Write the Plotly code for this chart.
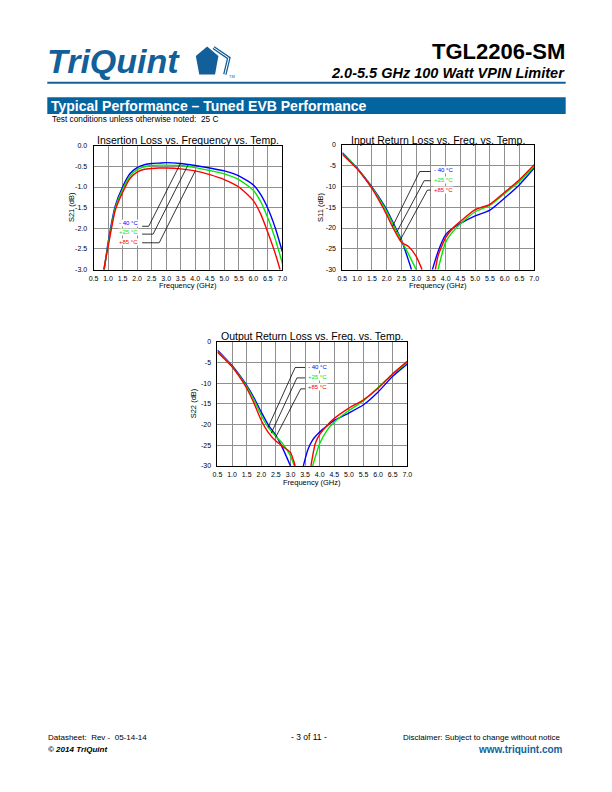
import plotly.graph_objects as go

W, H = 612, 792
FONT = "Liberation Sans"

# ---------------- data ----------------
temps = ["- 40 °C", "+25 °C", "+85 °C"]
colors = ["#0000ff", "#00e600", "#ff0000"]

freq_ticks = [0.5, 1.0, 1.5, 2.0, 2.5, 3.0, 3.5, 4.0, 4.5, 5.0, 5.5, 6.0, 6.5, 7.0]
freq_ticktext = ["0.5", "1.0", "1.5", "2.0", "2.5", "3.0", "3.5", "4.0", "4.5", "5.0", "5.5", "6.0", "6.5", "7.0"]
s21_ticks = [0.0, -0.5, -1.0, -1.5, -2.0, -2.5, -3.0]
s21_ticktext = ["0.0", "-0.5", "-1.0", "-1.5", "-2.0", "-2.5", "-3.0"]
rl_ticks = [0, -5, -10, -15, -20, -25, -30]
rl_ticktext = ["0", "-5", "-10", "-15", "-20", "-25", "-30"]

# Insertion loss S21 (dB)
s21_m40_f = [0.87, 1.0, 1.25, 1.5, 1.75, 2.0, 2.25, 2.5, 2.75, 3.0, 3.5, 4.0, 4.5, 5.0, 5.5, 6.0, 6.25, 6.5, 6.75, 7.0]
s21_m40 = [-3.0, -2.35, -1.45, -1.0, -0.68, -0.53, -0.46, -0.43, -0.42, -0.41, -0.43, -0.48, -0.54, -0.61, -0.73, -0.95, -1.18, -1.52, -1.98, -2.57]
s21_p25_f = [0.86, 1.0, 1.25, 1.5, 1.75, 2.0, 2.25, 2.5, 2.75, 3.0, 3.5, 4.0, 4.5, 5.0, 5.5, 6.0, 6.25, 6.5, 6.75, 7.0]
s21_p25 = [-3.0, -2.4, -1.5, -1.06, -0.74, -0.58, -0.51, -0.48, -0.47, -0.47, -0.48, -0.53, -0.6, -0.68, -0.82, -1.08, -1.35, -1.75, -2.25, -2.85]
s21_p85_f = [0.85, 1.0, 1.25, 1.5, 1.75, 2.0, 2.25, 2.5, 2.75, 3.0, 3.5, 4.0, 4.5, 5.0, 5.5, 6.0, 6.25, 6.5, 6.75, 6.92]
s21_p85 = [-3.0, -2.45, -1.56, -1.13, -0.8, -0.64, -0.57, -0.55, -0.54, -0.54, -0.56, -0.61, -0.7, -0.82, -1.0, -1.33, -1.65, -2.1, -2.6, -3.0]

# Input return loss S11 (dB): low branch and high branch (curve leaves the -30 dB floor between)
s11_m40_f_lo = [0.5, 0.75, 1.0, 1.25, 1.5, 1.75, 2.0, 2.25, 2.5, 2.75, 2.84]
s11_m40_lo = [-1.9, -3.7, -5.6, -7.8, -10.1, -12.7, -15.6, -19.2, -22.8, -28.0, -30.0]
s11_m40_f_hi = [3.55, 3.75, 4.0, 4.25, 4.5, 5.0, 5.5, 6.0, 6.5, 7.0]
s11_m40_hi = [-30.0, -25.5, -21.6, -20.0, -18.9, -17.1, -15.7, -12.8, -9.6, -5.6]
s11_p25_f_lo = [0.5, 0.75, 1.0, 1.25, 1.5, 1.75, 2.0, 2.25, 2.5, 2.75, 3.0]
s11_p25_lo = [-2.1, -3.8, -5.7, -7.9, -10.3, -13.0, -16.0, -19.6, -23.0, -26.4, -30.0]
s11_p25_f_hi = [3.74, 4.0, 4.25, 4.5, 5.0, 5.5, 6.0, 6.5, 7.0]
s11_p25_hi = [-30.0, -23.4, -20.8, -19.0, -16.1, -14.5, -11.7, -8.8, -5.2]
s11_p85_f_lo = [0.5, 0.75, 1.0, 1.25, 1.5, 1.75, 2.0, 2.25, 2.5, 2.75, 3.0, 3.2]
s11_p85_lo = [-2.3, -4.0, -5.8, -8.0, -10.5, -13.5, -16.8, -20.4, -23.4, -24.5, -26.8, -30.0]
s11_p85_f_hi = [3.65, 3.75, 4.0, 4.25, 4.5, 5.0, 5.5, 6.0, 6.5, 7.0]
s11_p85_hi = [-30.0, -26.5, -22.3, -20.0, -18.4, -15.6, -14.3, -11.4, -8.4, -4.8]

# Output return loss S22 (dB)
s22_m40_f_lo = [0.5, 0.75, 1.0, 1.25, 1.5, 1.75, 2.0, 2.25, 2.5, 2.75, 3.0]
s22_m40_lo = [-2.0, -3.8, -5.7, -8.0, -10.5, -13.5, -17.0, -20.2, -22.6, -26.0, -30.0]
s22_m40_f_hi = [3.44, 3.6, 3.75, 4.0, 4.25, 4.5, 5.0, 5.5, 6.0, 6.5, 7.0]
s22_m40_hi = [-30.0, -26.0, -23.8, -21.8, -20.3, -19.0, -17.2, -15.2, -12.1, -8.3, -5.3]
s22_p25_f_lo = [0.5, 0.75, 1.0, 1.25, 1.5, 1.75, 2.0, 2.25, 2.5, 2.75, 3.0, 3.13]
s22_p25_lo = [-2.3, -4.0, -5.9, -8.2, -10.8, -14.0, -17.8, -20.8, -22.9, -24.8, -27.6, -30.0]
s22_p25_f_hi = [3.76, 4.0, 4.25, 4.5, 5.0, 5.5, 6.0, 6.5, 7.0]
s22_p25_hi = [-30.0, -24.6, -21.4, -19.4, -16.6, -14.2, -11.0, -7.8, -5.0]
s22_p85_f_lo = [0.5, 0.75, 1.0, 1.25, 1.5, 1.75, 2.0, 2.25, 2.5, 2.75, 3.0, 3.1, 3.16]
s22_p85_lo = [-2.5, -4.2, -6.0, -8.4, -11.2, -14.8, -19.0, -22.0, -24.0, -25.4, -26.8, -28.6, -30.0]
s22_p85_f_hi = [3.7, 3.85, 4.0, 4.25, 4.5, 5.0, 5.5, 6.0, 6.5, 7.0]
s22_p85_hi = [-30.0, -24.6, -22.4, -20.2, -18.5, -16.0, -14.0, -11.2, -7.7, -4.7]

# Leader-line callouts (frequency, dB) for each temperature label
s21_label_pos = [(2.06, -1.86), (2.06, -2.10), (2.06, -2.34)]
s21_leaders = [
    [(2.17, -1.95), (2.40, -1.95), (3.49, -0.43)],
    [(2.17, -2.14), (2.55, -2.14), (3.75, -0.47)],
    [(2.17, -2.35), (2.76, -2.35), (4.00, -0.61)],
]
s11_label_pos = [(3.57, -6.0), (3.57, -8.4), (3.57, -10.8)]
s11_leaders = [
    [(3.49, -6.43), (3.12, -6.43), (2.20, -19.6)],
    [(3.49, -8.64), (3.27, -8.64), (2.34, -21.0)],
    [(3.49, -10.9), (3.38, -10.9), (2.46, -22.9)],
]
s22_label_pos = [(3.57, -6.17), (3.57, -8.56), (3.57, -11.0)]
s22_leaders = [
    [(3.50, -6.17), (3.16, -6.17), (2.23, -20.7)],
    [(3.50, -8.70), (3.22, -8.70), (2.34, -22.1)],
    [(3.50, -11.35), (3.35, -11.35), (2.49, -23.1)],
]

# ---------------- figure ----------------
def px(x):
    return x / W


def py(y):
    return 1 - y / H


fig = go.Figure()


def join(fl, vl, fh=None, vh=None):
    if fh is None:
        return list(fl), list(vl)
    return list(fl) + [None] + list(fh), list(vl) + [None] + list(vh)


panels = [
    dict(xa="x", ya="y", series=[join(s21_m40_f, s21_m40), join(s21_p25_f, s21_p25), join(s21_p85_f, s21_p85)],
         leaders=s21_leaders, labels=s21_label_pos, label_anchor="right"),
    dict(xa="x2", ya="y2", series=[join(s11_m40_f_lo, s11_m40_lo, s11_m40_f_hi, s11_m40_hi),
                                   join(s11_p25_f_lo, s11_p25_lo, s11_p25_f_hi, s11_p25_hi),
                                   join(s11_p85_f_lo, s11_p85_lo, s11_p85_f_hi, s11_p85_hi)],
         leaders=s11_leaders, labels=s11_label_pos, label_anchor="left"),
    dict(xa="x3", ya="y3", series=[join(s22_m40_f_lo, s22_m40_lo, s22_m40_f_hi, s22_m40_hi),
                                   join(s22_p25_f_lo, s22_p25_lo, s22_p25_f_hi, s22_p25_hi),
                                   join(s22_p85_f_lo, s22_p85_lo, s22_p85_f_hi, s22_p85_hi)],
         leaders=s22_leaders, labels=s22_label_pos, label_anchor="left"),
]

annotations = []
for p in panels:
    for (fx, fy), col in zip(p["series"], colors):
        fig.add_trace(go.Scatter(x=fx, y=fy, mode="lines", xaxis=p["xa"], yaxis=p["ya"],
                                 line=dict(color=col, width=1.4, shape="spline", smoothing=0.6),
                                 connectgaps=False, showlegend=False, hoverinfo="skip"))
    for ld in p["leaders"]:
        fig.add_trace(go.Scatter(x=[q[0] for q in ld], y=[q[1] for q in ld], mode="lines",
                                 xaxis=p["xa"], yaxis=p["ya"], line=dict(color="black", width=0.8),
                                 showlegend=False, hoverinfo="skip"))
    for (lx, ly), t, col in zip(p["labels"], temps, colors):
        annotations.append(dict(x=lx, y=ly, xref=p["xa"], yref=p["ya"], text=t, showarrow=False,
                                xanchor=p["label_anchor"], yanchor="middle", bgcolor="white",
                                borderpad=0, font=dict(family=FONT, size=6, color=col)))

axis_common = dict(showline=True, linecolor="black", linewidth=1, mirror=True, showgrid=True,
                   gridcolor="#8f8f8f", gridwidth=1, zeroline=False,
                   tickfont=dict(family=FONT, size=7, color="black"), ticks="outside",
                   tickcolor="rgba(0,0,0,0)", fixedrange=True)

xdoms = [[px(90), px(282)], [px(343), px(538)], [px(216), px(409)]]
ydoms = [[py(268), py(143)], [py(268), py(142)], [py(466), py(341)]]
names = ["", "2", "3"]
for i, n in enumerate(names):
    fig.layout["xaxis" + n] = dict(axis_common, domain=xdoms[i], range=[0.5, 7.0], tickvals=freq_ticks,
                                   ticktext=freq_ticktext, ticklen=2, anchor="y" + n)
    if i == 0:
        fig.layout["yaxis" + n] = dict(axis_common, domain=ydoms[i], range=[-3.0, 0.0], tickvals=s21_ticks,
                                       ticktext=s21_ticktext, ticklen=4, anchor="x" + n)
    else:
        fig.layout["yaxis" + n] = dict(axis_common, domain=ydoms[i], range=[-30, 0], tickvals=rl_ticks,
                                       ticktext=rl_ticktext, ticklen=4, anchor="x" + n)


def text(x, y, s, size, color="black", xanchor="left", yanchor="middle", angle=0, family=FONT):
    annotations.append(dict(x=px(x), y=py(y), xref="paper", yref="paper", text=s, showarrow=False,
                            xanchor=xanchor, yanchor=yanchor, textangle=angle, borderpad=0,
                            font=dict(family=family, size=size, color=color)))


# chart titles and axis titles
text(186, 137, "Insertion Loss vs. Frequency vs. Temp.", 10.5, xanchor="center")
text(440, 137, "Input Return Loss vs. Freq. vs. Temp.", 10.5, xanchor="center")
text(312, 335, "Output Return Loss vs. Freq. vs. Temp.", 10.5, xanchor="center")
text(186, 284.5, "Frequency (GHz)", 7.5, xanchor="center")
text(440, 284.5, "Frequency (GHz)", 7.5, xanchor="center")
text(312, 482.5, "Frequency (GHz)", 7.5, xanchor="center")
text(67, 205, "S21 (dB)", 7.5, xanchor="center", angle=-90)
text(320, 205, "S11 (dB)", 7.5, xanchor="center", angle=-90)
text(192, 403, "S22 (dB)", 7.5, xanchor="center", angle=-90)

BLUE = "#135f9a"
BAR = "#03649f"
# header
text(42, 58, "<b><i>TriQuint</i></b>", 34, color=BLUE)
text(570, 48, "<b>TGL2206-SM</b>", 22, xanchor="right")
text(570, 70, "<b><i>2.0-5.5 GHz 100 Watt VPIN Limiter</i></b>", 14.5, xanchor="right")
text(227, 73, "TM", 4, color=BLUE)
text(46, 102.5, "<b>Typical Performance – Tuned EVB Performance</b>", 14, color="white")
text(47, 116.5, "Test conditions unless otherwise noted:  25 C", 8.3)
# footer
text(43, 740, "Datasheet:  Rev -  05-14-14", 8)
text(43, 752, "<b><i>© 2014 TriQuint</i></b>", 8)
text(309, 740, "- 3 of 11 -", 8.5, xanchor="center")
text(566, 740, "Disclaimer: Subject to change without notice", 8, xanchor="right")
text(568, 752, "<b>www.triquint.com</b>", 10, color=BLUE, xanchor="right")


def path(points, close=True):
    s = "M " + " L ".join(f"{px(a):.5f},{py(b):.5f}" for a, b in points)
    return s + (" Z" if close else "")


shapes = [
    dict(type="line", xref="paper", yref="paper", x0=px(43), x1=px(570), y0=py(79.5), y1=py(79.5),
         line=dict(color=BLUE, width=2)),
    dict(type="rect", xref="paper", yref="paper", x0=px(43), x1=px(570), y0=py(111), y1=py(94),
         fillcolor=BAR, line=dict(width=0)),
    dict(type="path", xref="paper", yref="paper",
         path=path([(205.5, 43), (217, 52.5), (213.5, 71), (197.5, 71), (194, 52.5)]),
         fillcolor=BLUE, line=dict(width=0)),
    dict(type="path", xref="paper", yref="paper",
         path=path([(212, 44), (227.5, 54.5), (223.5, 71)], close=False),
         line=dict(color=BLUE, width=3.5)),
    dict(type="path", xref="paper", yref="paper",
         path=path([(212, 44), (227.5, 54.5), (223.5, 71)], close=False),
         line=dict(color="white", width=1)),
]

fig.update_layout(width=W, height=H, margin=dict(l=0, r=0, t=0, b=0), paper_bgcolor="white",
                  plot_bgcolor="white", annotations=annotations, shapes=shapes, showlegend=False)

fig.write_html("out.html", config={"displayModeBar": False})
